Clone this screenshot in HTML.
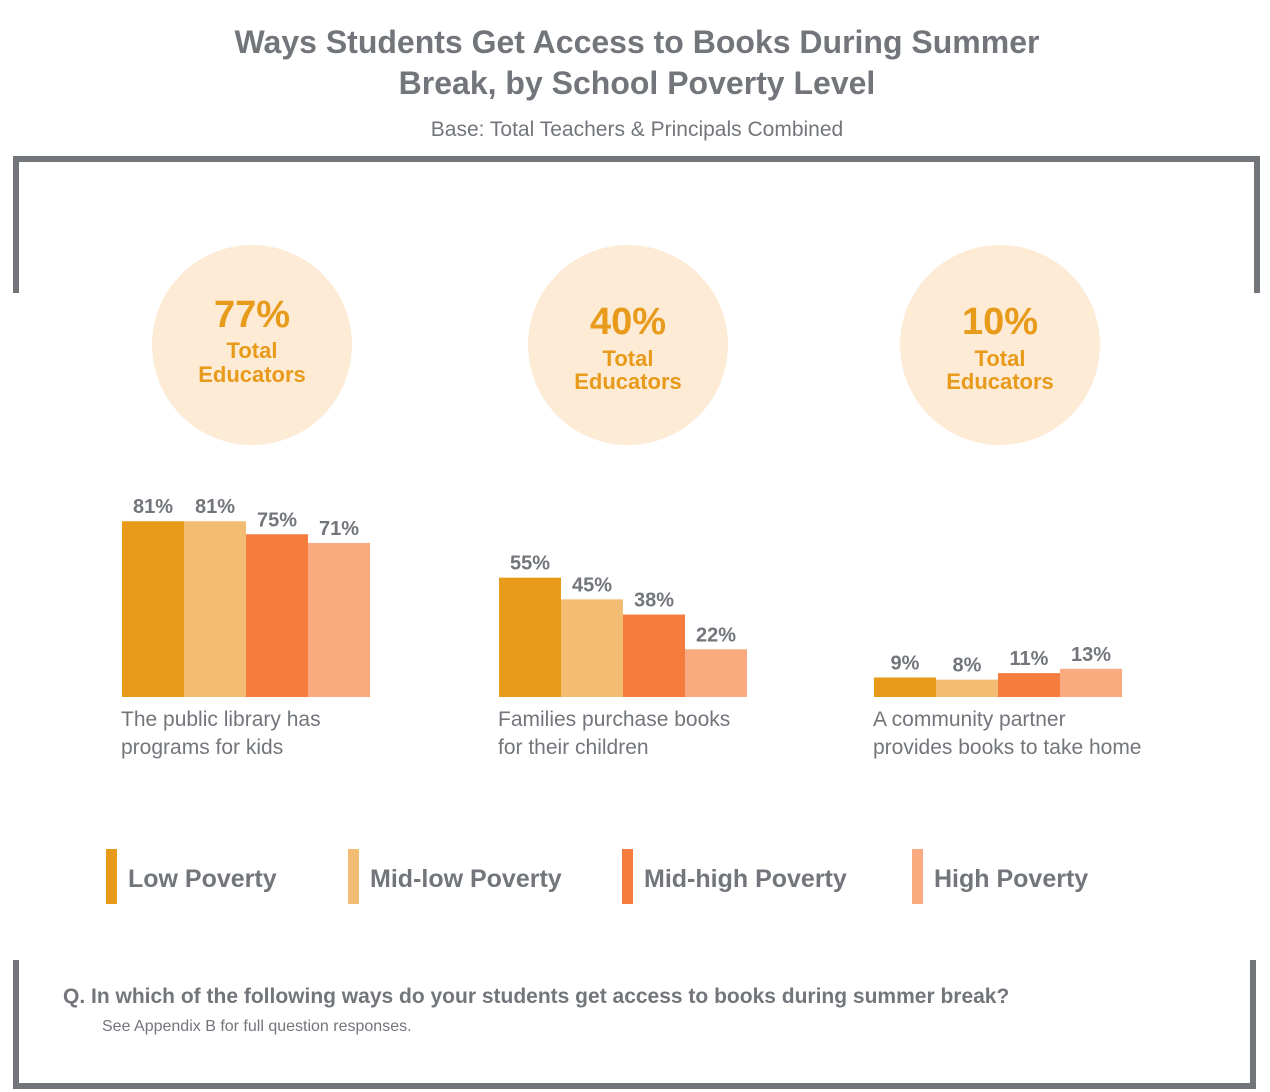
<!DOCTYPE html>
<html><head><meta charset="utf-8"><style>
body{margin:0;background:#fff;font-family:"Liberation Sans",sans-serif;}
#root{position:relative;width:1270px;height:1092px;overflow:hidden;}
</style></head><body>
<div id="root">
<svg width="1270" height="1092" xmlns="http://www.w3.org/2000/svg" id="chart">
<text x="637" y="53" text-anchor="middle" font-size="32" font-weight="bold" fill="#72767b">Ways Students Get Access to Books During Summer</text>
<text x="637" y="94" text-anchor="middle" font-size="32" font-weight="bold" fill="#72767b">Break, by School Poverty Level</text>
<text x="637" y="136" text-anchor="middle" font-size="21" fill="#72767b">Base: Total Teachers &amp; Principals Combined</text>
<path d="M16,293 V159 H1257 V293" fill="none" stroke="#72767b" stroke-width="6"/>
<path d="M16,960 V1086 H1253 V960" fill="none" stroke="#72767b" stroke-width="6"/>
<g id="circles"></g>
<g id="bars"></g>
<g id="legend"></g>
<text x="63" y="1003" font-size="21" font-weight="bold" fill="#72767b">Q.  In which of the following ways do your students get access to books during summer break?</text>
<text x="102" y="1031" font-size="16" fill="#72767b">See Appendix B for full question responses.</text>
</svg>
</div>
<script>
const categories=[["The public library has","programs for kids"],["Families purchase books","for their children"],["A community partner","provides books to take home"]];
const totals=[77,40,10];
const seriesNames=["Low Poverty","Mid-low Poverty","Mid-high Poverty","High Poverty"];
const lowPoverty=[81,55,9];
const midLowPoverty=[81,45,8];
const midHighPoverty=[75,38,11];
const highPoverty=[71,22,13];
const colors=["#E89A1A","#F2BC73","#F47C3C","#F9AA7F"];
const NS="http://www.w3.org/2000/svg";
const series=[lowPoverty,midLowPoverty,midHighPoverty,highPoverty];
const groupX=[122,499,874], circleX=[252,628,1000], barW=62, base=697;
const y=v=>base-v*2.17;
function mk(tag,attrs,parent,text){const e=document.createElementNS(NS,tag);for(const k in attrs)e.setAttribute(k,attrs[k]);if(text!==undefined)e.textContent=text;parent.appendChild(e);return e;}
const cg=document.getElementById('circles'),bg=document.getElementById('bars'),lg=document.getElementById('legend');
totals.forEach((t,i)=>{
  const c=mk('circle',{cx:circleX[i],cy:345,r:100,fill:'#FDEBD5'},cg);
  
  
  const a=mk('text',{x:circleX[i],y:i==0?327:334,'text-anchor':'middle','font-size':38,'font-weight':'bold',fill:'#E89A1A'},cg,t+'%');
  
  
  const b=mk('text',{x:circleX[i],y:i==0?358:366,'text-anchor':'middle','font-size':22,'font-weight':'bold',fill:'#E89A1A'},cg,'Total');
  
  
  const d=mk('text',{x:circleX[i],y:i==0?382:389,'text-anchor':'middle','font-size':22,'font-weight':'bold',fill:'#E89A1A'},cg,'Educators');
  
  
});
categories.forEach((cat,i)=>{
  series.forEach((s,j)=>{
    const x=groupX[i]+j*barW;
    const r=mk('rect',{x:x,y:y(s[i]),width:barW,height:base-y(s[i]),fill:colors[j]},bg);
    
    
    const l=mk('text',{x:x+barW/2,y:y(s[i])-8,'text-anchor':'middle','font-size':20,'font-weight':'bold',fill:'#72767b'},bg,s[i]+'%');
    
    
  });
  cat.forEach((line,k)=>{
    const t=mk('text',{x:groupX[i]-1,y:726+k*28,'font-size':21,fill:'#72767b'},bg,line);
    
    
  });
});
const legX=[106,348,622,912];
seriesNames.forEach((n,j)=>{
  const r=mk('rect',{x:legX[j],y:849,width:11,height:55,fill:colors[j]},lg);
  
  
  const t=mk('text',{x:legX[j]+22,y:887,'font-size':25,'font-weight':'bold',fill:'#72767b'},lg,n);
  
  
});
</script>
</body></html>
